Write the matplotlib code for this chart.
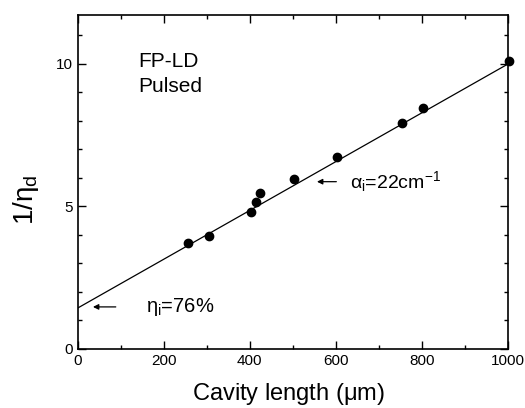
import matplotlib
matplotlib.use("Agg")
import matplotlib.pyplot as plt
from matplotlib.ticker import MultipleLocator

plt.rcParams['font.family'] = ['Liberation Sans', 'DejaVu Sans']
plt.rcParams['mathtext.fontset'] = 'custom'
plt.rcParams['mathtext.rm'] = 'Liberation Sans'
plt.rcParams['mathtext.it'] = 'Liberation Sans'

# measured inverse differential efficiency vs cavity length
cavity_len = [257, 305, 404, 414, 424, 502, 602, 754, 803, 1004]
inv_eta_d = [3.70, 3.97, 4.78, 5.16, 5.45, 5.97, 6.73, 7.92, 8.45, 10.09]

# linear fit, 1/eta_d = (1/eta_i)(1 + alpha_i L / ln(1/R))
fit_len = [0, 1000]
fit_val = [1.43, 9.98]

fig = plt.figure(figsize=(5.25, 4.08), dpi=100)
ax = fig.add_axes([0.148, 0.145, 0.819, 0.818])

ax.plot(fit_len, fit_val, color='black', lw=0.9)
ax.plot(cavity_len, inv_eta_d, 'o', color='black', ms=6, clip_on=False, zorder=3)

ax.set_xlim(0, 1000)
ax.set_ylim(0, 11.7)
ax.xaxis.set_major_locator(MultipleLocator(200))
ax.xaxis.set_minor_locator(MultipleLocator(100))
ax.yaxis.set_major_locator(MultipleLocator(5))
ax.yaxis.set_minor_locator(MultipleLocator(1))
ax.tick_params(which='both', direction='in', top=True, right=True, labelsize=11)
ax.tick_params(which='major', length=6, width=1)
ax.tick_params(which='minor', length=3, width=1)
for s in ax.spines.values():
    s.set_linewidth(1.2)

ax.set_xlabel(r'Cavity length ($\mu$m)', fontsize=17)
ax.set_ylabel(r'$1/\eta_{\rm d}$', fontsize=20)
ax.xaxis.set_label_coords(0.49, -0.095)
ax.yaxis.set_label_coords(-0.085, 0.446)

ax.text(140, 9.64, 'FP-LD\nPulsed', fontsize=15, va='center', ha='left', linespacing=1.4)

# internal efficiency from the intercept
ax.annotate('', xy=(29, 1.47), xytext=(95, 1.47),
            arrowprops=dict(arrowstyle='-|>', color='black', lw=0.9, mutation_scale=8))
ax.text(160, 1.47, r'$\eta_{\rm i}$=76%', fontsize=14.5, va='center', ha='left')

# internal loss from the slope
ax.annotate('', xy=(550, 5.86), xytext=(608, 5.86),
            arrowprops=dict(arrowstyle='-|>', color='black', lw=0.9, mutation_scale=8))
ax.text(633, 5.86, r'$\alpha_{\rm i}$=22cm$^{-1}$', fontsize=14, va='center', ha='left')

fig.savefig('out.png', dpi=100)
